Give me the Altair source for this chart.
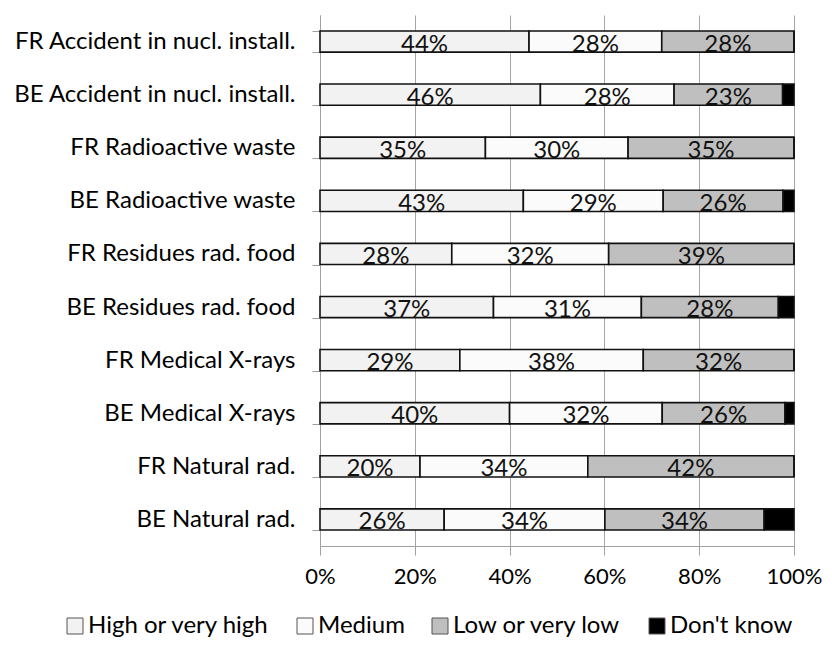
import altair as alt
import pandas as pd

categories = [
    "FR Accident in nucl. install.",
    "BE Accident in nucl. install.",
    "FR Radioactive waste",
    "BE Radioactive waste",
    "FR Residues rad. food",
    "BE Residues rad. food",
    "FR Medical X-rays",
    "BE Medical X-rays",
    "FR Natural rad.",
    "BE Natural rad.",
]
series = ["High or very high", "Medium", "Low or very low", "Don't know"]

high = [44.1, 46.5, 34.9, 42.9, 27.8, 36.6, 29.5, 40.0, 21.1, 26.2]
medium = [28.0, 28.2, 30.1, 29.5, 33.1, 31.2, 38.7, 32.2, 35.4, 33.9]
low = [27.9, 22.9, 35.0, 25.3, 39.1, 28.9, 31.8, 25.9, 43.5, 33.6]
dont_know = [0.0, 2.4, 0.0, 2.3, 0.0, 3.3, 0.0, 1.9, 0.0, 6.3]

high_lbl = ["44%", "46%", "35%", "43%", "28%", "37%", "29%", "40%", "20%", "26%"]
medium_lbl = ["28%", "28%", "30%", "29%", "32%", "31%", "38%", "32%", "34%", "34%"]
low_lbl = ["28%", "23%", "35%", "26%", "39%", "28%", "32%", "26%", "42%", "34%"]
dk_lbl = ["", "", "", "", "", "", "", "", "", ""]

x_ticks = [0, 20, 40, 60, 80, 100]
colors = ["#f2f2f2", "#fbfbfb", "#bfbfbf", "#000000"]

rows = []
for s_i, (s, vals, lbls) in enumerate(zip(series, [high, medium, low, dont_know],
                                           [high_lbl, medium_lbl, low_lbl, dk_lbl])):
    for c, v, l in zip(categories, vals, lbls):
        rows.append({"cat": c, "series": s, "order": s_i, "value": v, "label": l})
df = pd.DataFrame(rows)

FONT = "Lato"
FS = 24

base = alt.Chart(df).transform_stack(
    stack="value", as_=["x0", "x1"], groupby=["cat"], sort=[{"field": "order"}]
).transform_calculate(mid="(datum.x0 + datum.x1) / 2")

yenc = alt.Y("cat:N", sort=categories, title=None,
             scale=alt.Scale(paddingInner=0.6, paddingOuter=0.3),
             axis=alt.Axis(labelFont=FONT, labelFontSize=FS, labelColor="#000000",
                           labelPadding=17, labelLimit=0, tickSize=8, tickBand="extent",
                           tickColor="#a0a0a0", domainColor="#a0a0a0", grid=False))

bars = base.mark_bar(stroke="#111111", strokeWidth=1.6).encode(
    x=alt.X("x0:Q", title=None, scale=alt.Scale(domain=[0, 100], nice=False),
            axis=alt.Axis(values=x_ticks,
                          labelExpr="datum.value + '%'",
                          labelFont=FONT, labelFontSize=22, labelColor="#000000",
                          labelPadding=11, labelFlush=False, tickSize=9,
                          tickColor="#a0a0a0", domainColor="#a0a0a0", grid=True,
                          gridColor="#a6a6a6", gridWidth=1)),
    x2="x1:Q",
    y=yenc,
    color=alt.Color("series:N", scale=alt.Scale(domain=series, range=colors),
                    legend=alt.Legend(title=None, orient="none", legendX=-257,
                                      legendY=599, direction="horizontal",
                                      columns=4, symbolType="square", symbolSize=256,
                                      symbolStrokeColor="#555555", symbolStrokeWidth=1,
                                      labelFont=FONT, labelFontSize=FS, labelLimit=0,
                                      labelColor="#000000", columnPadding=23,
                                      labelOffset=1)),
    order=alt.Order("order:Q"),
)

texts = base.mark_text(font=FONT, fontSize=FS, color="#111111",
                       baseline="alphabetic", dy=10).encode(
    x="mid:Q",
    y=alt.Y("cat:N", sort=categories),
    text="label:N",
)

chart = (bars + texts).properties(
    width=474, height=531,
    autosize=alt.AutoSizeParams(type="none"),
    padding={"left": 312, "top": 7, "right": 30, "bottom": 92},
).configure_view(stroke=None)

chart.save("out.html", embed_options={"renderer": "svg", "actions": False})
